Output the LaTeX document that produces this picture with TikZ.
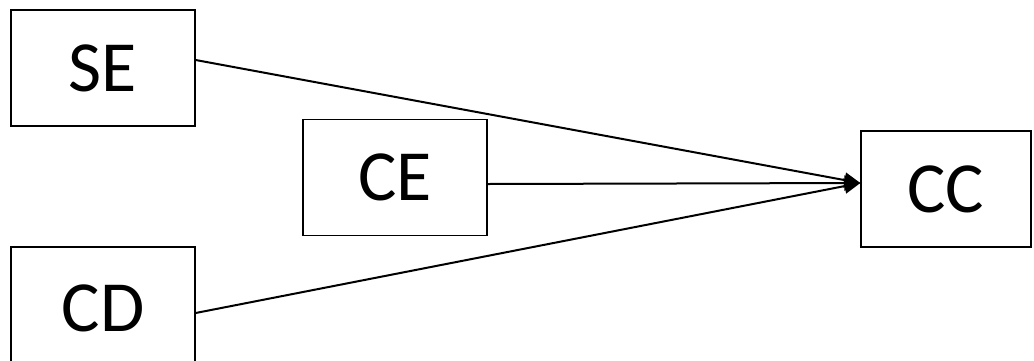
\documentclass[tikz,border=0pt]{standalone}
\usepackage{fontspec}
\setmainfont{Carlito}
\usetikzlibrary{arrows.meta}
\begin{document}
\begin{tikzpicture}[x=1pt,y=-1pt,
  box/.style={draw,line width=1.3pt,minimum width=184pt,minimum height=116pt,inner sep=0pt,font=\fontsize{72}{72}\selectfont},
  conn/.style={line width=2pt,-{Triangle[length=16pt,width=15pt]}}]
\useasboundingbox (0,0) rectangle (1034,360);
\node[box] (se) at (103,68) {SE};
\node[box] (ce) at (395,177.5) {CE};
\node[box,minimum width=170pt] (cc) at (946,189) {CC};
\node[box,minimum height=123pt] (cd) at (103,308.5) {CD};
\coordinate (seR) at ([yshift=8pt]se.east);
\coordinate (ceR) at ([yshift=-6.5pt]ce.east);
\coordinate (ccL) at ([yshift=6pt]cc.west);
\coordinate (cdR) at ([yshift=-4.5pt]cd.east);
\draw[conn] (seR) -- (ccL);
\draw[conn] (ceR) -- (ccL);
\draw[conn] (cdR) -- (ccL);
\end{tikzpicture}
\end{document}
